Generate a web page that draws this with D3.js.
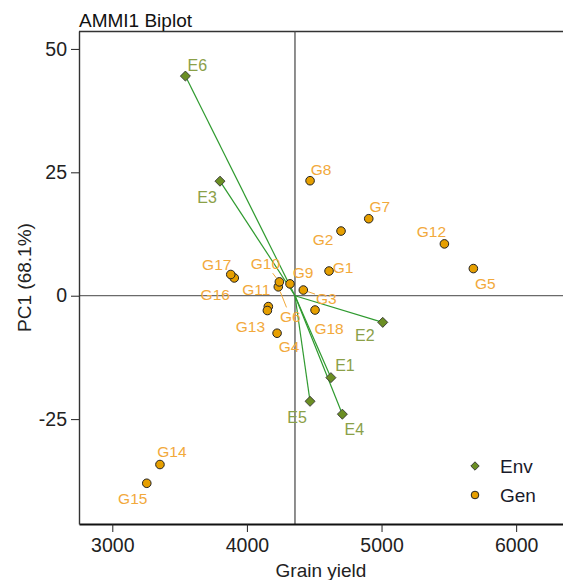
<!DOCTYPE html>
<html>
<head>
<meta charset="utf-8">
<script src="https://cdn.jsdelivr.net/npm/d3@7"></script>
<style>
  body { margin: 0; background: #fff; }
  svg { font-family: "Liberation Sans", Arial, sans-serif; }
</style>
</head>
<body>
<svg width="563" height="580"></svg>
<script>
// genotypes: yield and PC1 score
const genNames = ["G1","G2","G3","G4","G5","G6","G7","G8","G9","G10","G11","G12","G13","G14","G15","G16","G17","G18"];
const genYield = [4610, 4699, 4419, 4224, 5682, 4233, 4905, 4469, 4320, 4241, 4159, 5467, 4152, 3354, 3256, 3906, 3880, 4506];
const genPC1   = [5.0, 13.1, 1.15, -7.6, 5.5, 1.8, 15.6, 23.3, 2.4, 2.8, -2.2, 10.5, -3.0, -34.2, -38.0, 3.6, 4.3, -2.9];

// environments
const envNames = ["E1","E2","E3","E4","E5","E6"];
const envYield = [4624, 5009, 3800, 4709, 4469, 3543];
const envPC1   = [-16.6, -5.4, 23.2, -24.0, -21.4, 44.5];

const grandMean = 4357;
const xTicks = [3000, 4000, 5000, 6000];
const yTicks = [-25, 0, 25, 50];

// label offsets (px), like repelled labels
const genLabelOff = {
  G1:[14,-4], G2:[-18,8], G3:[23,8], G4:[12,13], G5:[12,15], G6:[12,30],
  G7:[11,-12], G8:[11,-11], G9:[13,-11], G10:[-14,-18], G11:[-12,-17], G12:[-13,-12],
  G13:[-17,16], G14:[12,-13], G15:[-14,15], G16:[-19,17], G17:[-14,-10], G18:[14,18]
};
const segLabels = ["G3", "G6", "G10"];
const envLabelOff = { E1:[14,-12], E2:[-18,13], E3:[-13,16], E4:[12,15], E5:[-13,16], E6:[12,-11] };

const svg = d3.select("svg");
const W = 563, H = 580;
const mLeft = 79, mTop = 31, mBottom = 524;

const x = d3.scaleLinear().domain([2752.6, 6348]).range([mLeft, W]);
const y = d3.scaleLinear().domain([-46.25, 53.63]).range([mBottom, mTop]);

const gens = genNames.map((n, i) => ({name: n, x: genYield[i], y: genPC1[i]}));
const envs = envNames.map((n, i) => ({name: n, x: envYield[i], y: envPC1[i]}));

// frame
svg.append("line").attr("x1", mLeft).attr("x2", W).attr("y1", mTop + 0.5).attr("y2", mTop + 0.5)
  .attr("stroke", "#333").attr("stroke-width", 1.3);

// reference lines
svg.append("line").attr("x1", mLeft).attr("x2", W).attr("y1", y(0)).attr("y2", y(0))
  .attr("stroke", "#444").attr("stroke-width", 1);
svg.append("line").attr("x1", x(grandMean)).attr("x2", x(grandMean)).attr("y1", mTop).attr("y2", mBottom)
  .attr("stroke", "#444").attr("stroke-width", 1.2);

// axes
const xAxis = svg.append("g").attr("transform", `translate(0,${mBottom})`)
  .call(d3.axisBottom(x).tickValues(xTicks).tickSize(8).tickSizeOuter(0).tickPadding(6).tickFormat(d3.format("d")));
xAxis.select(".domain").attr("stroke", "#111").attr("stroke-width", 2.2);
xAxis.selectAll(".tick line").attr("stroke", "#222");
xAxis.selectAll("text").attr("font-size", 19.5).attr("fill", "#222").attr("font-family", null);

const yAxis = svg.append("g").attr("transform", `translate(${mLeft},0)`)
  .call(d3.axisLeft(y).tickValues(yTicks).tickSize(8).tickSizeOuter(0).tickPadding(4).tickFormat(d => String(d)));
yAxis.select(".domain").attr("stroke", "#333").attr("stroke-width", 1.4);
yAxis.selectAll(".tick line").attr("stroke", "#222");
yAxis.selectAll("text").attr("font-size", 19.5).attr("fill", "#222").attr("font-family", null);

// titles
svg.append("text").attr("x", mLeft).attr("y", 27).attr("font-size", 19).attr("fill", "#111")
  .text("AMMI1 Biplot");
svg.append("text").attr("x", (mLeft + W) / 2).attr("y", 577).attr("text-anchor", "middle")
  .attr("font-size", 19).attr("fill", "#222").text("Grain yield");
svg.append("text").attr("transform", `translate(31,${(mTop + mBottom) / 2}) rotate(-90)`)
  .attr("text-anchor", "middle").attr("font-size", 19).attr("fill", "#222").text("PC1 (68.1%)");

// environment vectors
svg.append("g").selectAll("line").data(envs).join("line")
  .attr("x1", x(grandMean)).attr("y1", y(0))
  .attr("x2", d => x(d.x)).attr("y2", d => y(d.y))
  .attr("stroke", "#2f9a2f").attr("stroke-width", 1.2);

// labels
const labG = svg.append("g");
const genLab = labG.selectAll("text.gl").data(gens).join("text").attr("class", "gl")
  .attr("x", d => x(d.x) + genLabelOff[d.name][0])
  .attr("y", d => y(d.y) + genLabelOff[d.name][1])
  .attr("text-anchor", "middle").attr("dominant-baseline", "central")
  .attr("font-size", 15.5).attr("fill", "#f2a93b")
  .text(d => d.name);

// leader segments for crowded labels
genLab.filter(d => segLabels.includes(d.name)).each(function(d) {
  const b = this.getBBox();
  const px = x(d.x), py = y(d.y);
  const cx = b.x + b.width / 2, cy = b.y + b.height / 2;
  const dx = cx - px, dy = cy - py, len = Math.hypot(dx, dy);
  const ux = dx / len, uy = dy / len;
  const t = Math.min(b.width / 2 / Math.abs(ux || 1e-6), b.height / 2 / Math.abs(uy || 1e-6));
  labG.append("line")
    .attr("x1", px + ux * 5).attr("y1", py + uy * 5)
    .attr("x2", cx - ux * (t + 1)).attr("y2", cy - uy * (t + 1))
    .attr("stroke", "#f2a93b").attr("stroke-width", 1);
});

labG.selectAll("text.el").data(envs).join("text").attr("class", "el")
  .attr("x", d => x(d.x) + envLabelOff[d.name][0])
  .attr("y", d => y(d.y) + envLabelOff[d.name][1])
  .attr("text-anchor", "middle").attr("dominant-baseline", "central")
  .attr("font-size", 16).attr("fill", "#8ba048")
  .text(d => d.name);

// points
const diamond = d3.symbol().type(d3.symbolDiamond2).size(64);
svg.append("g").selectAll("path").data(envs).join("path")
  .attr("transform", d => `translate(${x(d.x)},${y(d.y)})`)
  .attr("d", diamond)
  .attr("fill", "#6b8e23").attr("stroke", "#333").attr("stroke-width", 0.9);

svg.append("g").selectAll("circle").data(gens).join("circle")
  .attr("cx", d => x(d.x)).attr("cy", d => y(d.y)).attr("r", 4.3)
  .attr("fill", "#e69f00").attr("stroke", "#222").attr("stroke-width", 1);

// legend
const leg = svg.append("g");
leg.append("path").attr("transform", "translate(475,466)").attr("d", d3.symbol().type(d3.symbolDiamond2).size(45))
  .attr("fill", "#6b8e23").attr("stroke", "#333").attr("stroke-width", 0.9);
leg.append("circle").attr("cx", 475).attr("cy", 495).attr("r", 3.8)
  .attr("fill", "#e69f00").attr("stroke", "#222").attr("stroke-width", 1);
leg.append("text").attr("x", 500).attr("y", 466).attr("dominant-baseline", "central")
  .attr("font-size", 19).attr("fill", "#1a1a2a").text("Env");
leg.append("text").attr("x", 500).attr("y", 495).attr("dominant-baseline", "central")
  .attr("font-size", 19).attr("fill", "#1a1a2a").text("Gen");
</script>
</body>
</html>
